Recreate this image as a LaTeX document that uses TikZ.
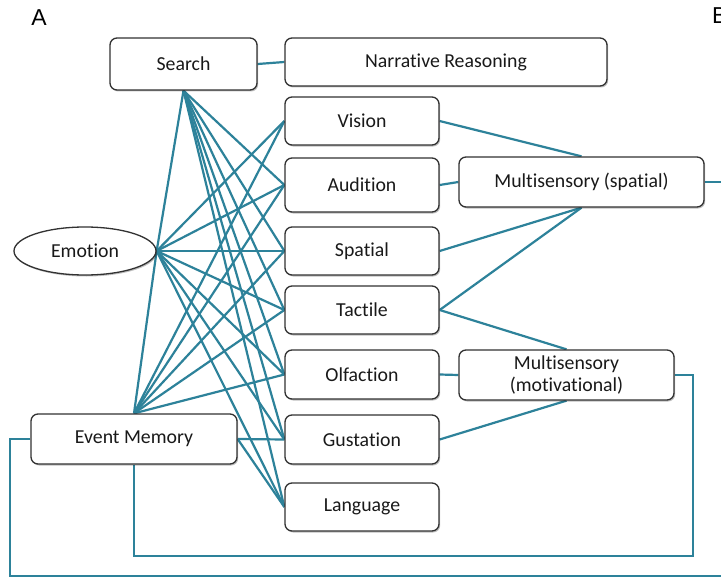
\documentclass[tikz,border=0pt]{standalone}
\usepackage{fontspec}
\setmainfont{Carlito}[Ligatures=NoCommon]
\newfontfamily\panelfont{Liberation Sans}
\usetikzlibrary{shapes.geometric,shadows,backgrounds}
\definecolor{linkteal}{RGB}{45,130,154}
\definecolor{boxedge}{RGB}{50,50,50}
\definecolor{txt}{RGB}{25,25,25}
\tikzset{
  box/.style={draw=boxedge, line width=1.3pt, rounded corners=7pt, fill=white,
    text=txt, font=\fontsize{19.8}{23}\selectfont, align=center, inner sep=0pt,
    drop shadow={shadow xshift=1.2pt, shadow yshift=-1.5pt, opacity=0.25, fill=black}},
  oval/.style={box, ellipse, rounded corners=0pt},
  link/.style={draw=linkteal, line width=2.2pt},
  panel/.style={font=\panelfont\fontsize{23}{26}\selectfont, text=black, inner sep=0pt}
}
\begin{document}
\begin{tikzpicture}[x=1pt, y=-1pt]
\useasboundingbox (0,0) rectangle (721,578);
\clip (0,0) rectangle (721,578);

% panel letters
\node[panel] (lblA) at (39,17.5) {A};
\node[panel, anchor=west] (lblB) at (712,16) {B};

% free ends of the outgoing connectors
\coordinate (exitS) at (730,182);
\coordinate (loopL) at (10,576);
\coordinate (exitL) at (730,576);
\coordinate (loopR) at (693,556);

% boxes
\node[box, minimum width=147pt, minimum height=52pt] (search) at (183.5,64) {Search};
\node[box, minimum width=322pt, minimum height=48pt] (narr) at (446,62) {Narrative Reasoning};
\node[box, minimum width=154pt, minimum height=48pt] (vis) at (362,121) {Vision};
\node[box, minimum width=154pt, minimum height=54pt] (aud) at (362,185) {Audition};
\node[box, minimum width=154pt, minimum height=48pt] (spa) at (362,251) {Spatial};
\node[box, minimum width=154pt, minimum height=48pt] (tac) at (362,310) {Tactile};
\node[box, minimum width=154pt, minimum height=49pt] (olf) at (362,374.5) {Olfaction};
\node[box, minimum width=154pt, minimum height=49pt] (gus) at (362,439.5) {Gustation};
\node[box, minimum width=154pt, minimum height=48pt] (lang) at (362,507) {Language};
\node[oval, minimum width=142pt, minimum height=48pt] (emo) at (85,251) {Emotion};
\node[box, minimum width=206pt, minimum height=50pt] (mem) at (134,439) {Event Memory};
\node[box, minimum width=245pt, minimum height=50pt] (mss) at (581.5,182) {Multisensory (spatial)};
\node[box, minimum width=215pt, minimum height=50pt] (msm) at (566.5,375) {Multisensory\\[-1pt](motivational)};

% connectors go underneath the boxes
\begin{scope}[on background layer]
\fill[white] (0,0) rectangle (721,578);

\draw[link] (search.east) -- (narr.west);

% search fan
\foreach \t in {aud,spa,tac,olf,gus,lang}
  \draw[link] (search.south) -- (\t.west);
\draw[link] (search.south) -- (emo.east);

% emotion fan
\foreach \t in {vis,aud,spa,tac,olf,gus,lang}
  \draw[link] (emo.east) -- (\t.west);
\draw[link] (emo.east) -- (mem.north);

% event memory fan
\foreach \t in {vis,aud,spa,tac,olf}
  \draw[link] (mem.north) -- (\t.west);
\draw[link] (mem.east) -- (gus.west);
\draw[link] (mem.east) -- (lang.west);

% multisensory integration
\draw[link] (vis.east) -- (mss.north);
\draw[link] (aud.east) -- (mss.west);
\draw[link] (spa.east) -- (mss.south);
\draw[link] (tac.east) -- (mss.south);
\draw[link] (tac.east) -- (msm.north);
\draw[link] (olf.east) -- (msm.west);
\draw[link] (gus.east) -- (msm.south);

% outgoing and feedback paths
\draw[link] (mss.east) -- (exitS);
\draw[link] (msm.east) -| (loopR) -| (mem.south);
\draw[link] (mem.west) -| (loopL) -- (exitL);
\end{scope}
\end{tikzpicture}
\end{document}
